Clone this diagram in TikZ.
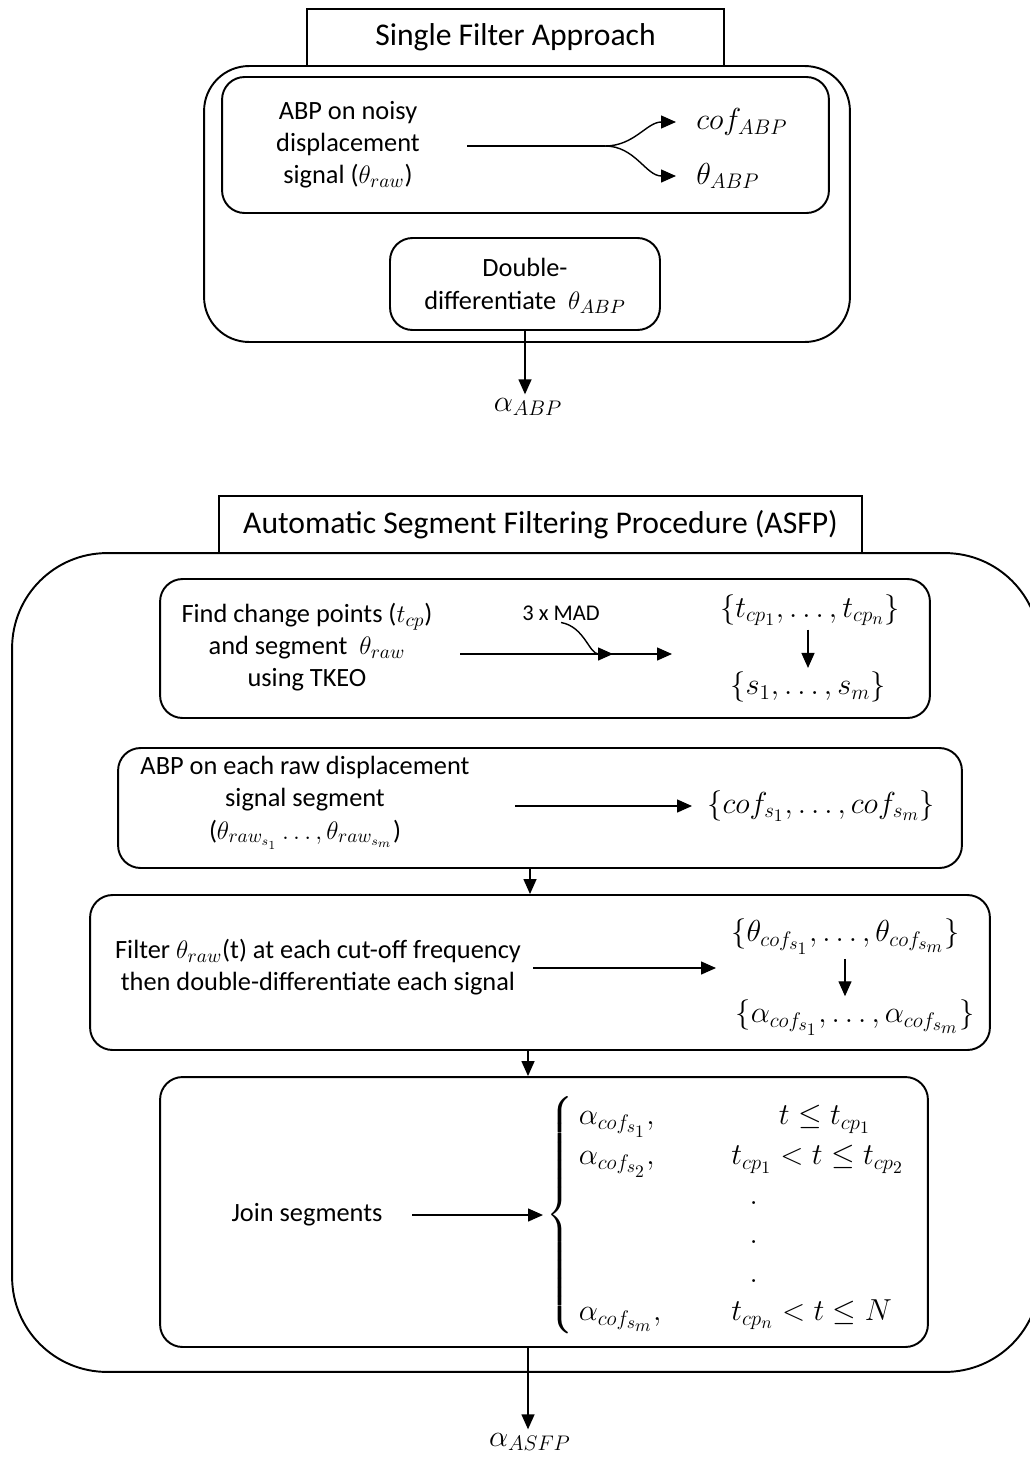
\documentclass[tikz,border=0pt]{standalone}
\usepackage{amsmath}
\usepackage{fontspec}
\setmainfont{Carlito}
\usetikzlibrary{arrows.meta,calc,positioning}
\tikzset{
  frame/.style={rectangle, draw=black, line width=1.1pt},
  tab/.style={rectangle, draw=black, line width=1.1pt, fill=white, minimum height=1.14cm, font=\fontsize{18}{21}\selectfont},
  stepbox/.style={rectangle, draw=black, line width=1.1pt, rounded corners=0.45cm},
  txt/.style={align=center, inner sep=0pt, font=\fontsize{15}{18.3}\selectfont},
  res/.style={inner sep=2pt, font=\fontsize{17.28}{22}\selectfont},
  small/.style={inner sep=1pt, font=\fontsize{12.8}{14}\selectfont},
  conn/.style={draw=black, line width=0.8pt},
  flow/.style={conn, -{Triangle[length=0.3cm,width=0.26cm]}}
}

\begin{document}
\begin{tikzpicture}[x=0.02cm, y=-0.02cm]
\useasboundingbox (0,0) rectangle (1029,1461);

% single filter approach
\node[frame, rounded corners=0.9cm, minimum width=12.92cm, minimum height=5.52cm] (sfa) at (527,204) {};
\node[tab, minimum width=8.34cm] (sfa-tab) at (515.5,37.5) {Single Filter Approach};

\node[stepbox, minimum width=12.14cm, minimum height=2.72cm] (abp) at (525.5,145) {};
\node[txt] (abp-txt) at (348,145) {ABP on noisy\\displacement\\signal ($\theta_{raw}$)};
\coordinate (abp-out) at (467,146);
\coordinate (abp-fork) at (605,146);
\node[res, anchor=west, inner xsep=0.4cm] (cof) at (676,122) {$cof_{ABP}$};
\node[res, anchor=west, inner xsep=0.4cm] (thabp) at (676,176) {$\theta_{ABP}$};
\draw[conn] (abp-out) -- (abp-fork);
\draw[flow] (abp-fork) to[out=0,in=180] (cof.west);
\draw[flow] (abp-fork) to[out=0,in=180] (thabp.west);

\node[stepbox, minimum width=5.4cm, minimum height=1.84cm] (dd) at (525,284) {};
\node[txt] (dd-txt) at (525,286) {Double-\\differentiate~ $\theta_{ABP}$};

\node[res] (aabp) at (528,407) {$\alpha_{ABP}$};
\draw[flow] (dd.south) -- (dd.south |- aabp.north);

% automatic segment filtering procedure
\node[frame, rounded corners=1.9cm, minimum width=20.56cm, minimum height=16.38cm] (asfp) at (526,962.5) {};
\node[tab, minimum width=12.86cm] (asfp-tab) at (540.5,524.5) {Automatic Segment Filtering Procedure (ASFP)};

% change points
\node[stepbox, minimum width=15.4cm, minimum height=2.78cm] (tkeo) at (545,648.5) {};
\node[txt] (tkeo-txt) at (307,647) {Find change points ($t_{cp}$)\\and segment~ $\theta_{raw}$\\using TKEO};
\coordinate (tkeo-out) at (460,654);
\coordinate (tkeo-end) at (672,654);
\coordinate (mad-tip) at (613,654);
\node[small] (mad) at (561,613) {3 x MAD};
\draw[flow] (tkeo-out) -- (tkeo-end);
\draw[flow] (mad.south) to[out=-10,in=180] (mad-tip);
\node[res] (tcp) at (810,610) {$\{t_{cp_1},\dots,t_{cp_n}\}$};
\node[res] (sseg) at (808,687) {$\{s_1,\dots,s_m\}$};
\draw[flow] (tcp.south -| 808,0) -- (sseg.north -| 808,0);

% cut-off per segment
\node[stepbox, minimum width=16.88cm, minimum height=2.4cm] (seg) at (540,808) {};
\node[txt] (seg-txt) at (305,803) {ABP on each raw displacement\\signal segment\\($\theta_{raw_{s_1}}\dots,\theta_{raw_{s_m}}$)};
\coordinate (seg-out) at (515,806);
\node[res, anchor=west, inner xsep=0.3cm] (cofs) at (692,806) {$\{cof_{s_1},\dots,cof_{s_m}\}$};
\draw[flow] (seg-out) -- (cofs.west);

% filtering
\node[stepbox, minimum width=18cm, minimum height=3.1cm] (filt) at (540,972.5) {};
\node[txt] (filt-txt) at (318,967) {Filter $\theta_{raw}$(t) at each cut-off frequency\\then double-differentiate each signal};
\coordinate (filt-out) at (533,968);
\node[res, anchor=west, inner xsep=0.3cm] (thcof) at (716,937) {$\{\theta_{cof_{s_1}},\dots,\theta_{cof_{s_m}}\}$};
\node[res] (alcof) at (855,1018) {$\{\alpha_{cof_{s_1}},\dots,\alpha_{cof_{s_m}}\}$};
\draw[flow] (filt-out) -- (filt-out -| thcof.west);
\draw[flow] (thcof.south -| 845,0) -- (alcof.north -| 845,0);

% join
\node[stepbox, minimum width=15.36cm, minimum height=5.4cm] (join) at (544,1212) {};
\node[txt] (join-txt) at (307,1215) {Join segments};
\coordinate (join-out) at (412,1215);
\node[res, anchor=west] (cases) at (543,1215) {$\left\{\begin{array}{@{\,}l@{\hspace{1.4cm}}l@{}}
\alpha_{cof_{s_1}}, & \hspace{0.95cm}t\le t_{cp_1}\\
\alpha_{cof_{s_2}}, & t_{cp_1}<t\le t_{cp_2}\\
 & \hspace{0.6em}.\\
 & \hspace{0.6em}.\\
 & \hspace{0.6em}.\\
\alpha_{cof_{s_m}}, & t_{cp_n}<t\le N
\end{array}\right.$};
\draw[flow] (join-out) -- (cases.west);

\node[res] (aasfp) at (530,1442) {$\alpha_{ASFP}$};

% vertical flow
\draw[flow] ([xshift=-0.2cm]seg.south) -- ([xshift=-0.2cm]seg.south |- filt.north);
\draw[flow] ([xshift=-0.24cm]filt.south) -- ([xshift=-0.24cm]filt.south |- join.north);
\draw[flow] ([xshift=-0.32cm]join.south) -- ([xshift=-0.32cm]join.south |- aasfp.north);

\end{tikzpicture}
\end{document}
